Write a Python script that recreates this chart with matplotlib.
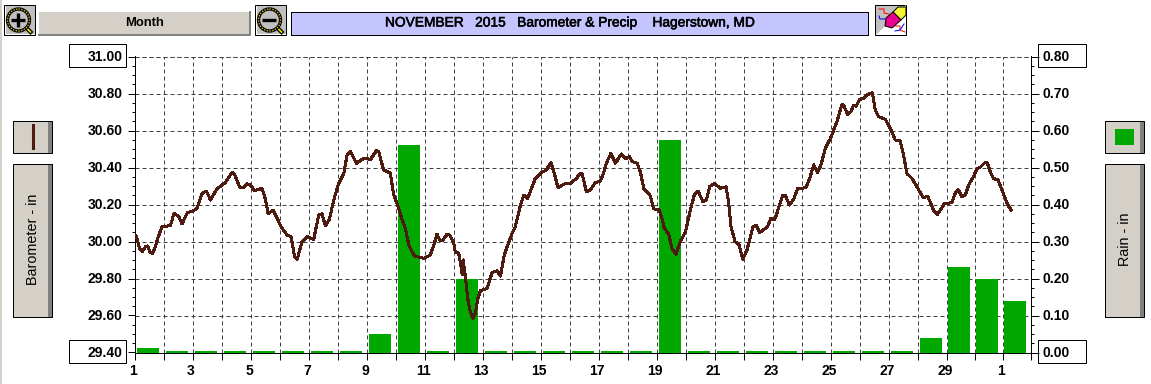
"""
Barometer & rain month chart for Hagerstown, MD (Nov 2015), with the program's
window furniture around it. Saves out.png at 1151x384.
"""
import matplotlib
matplotlib.use("Agg")
import matplotlib.patheffects as pe
import matplotlib.pyplot as plt
import numpy as np
from matplotlib.patches import Circle, Polygon, Rectangle
from matplotlib.transforms import ScaledTranslation

plt.rcParams["font.family"] = ["Liberation Sans", "DejaVu Sans"]

W, H = 1151, 384

TITLE = "NOVEMBER   2015   Barometer & Precip    Hagerstown, MD"

# day 31 on this axis is Dec 1
DAY_LABELS = ["1", "3", "5", "7", "9", "11", "13", "15", "17", "19", "21", "23", "25", "27", "29", "1"]
BARO_TICKS = [29.40, 29.60, 29.80, 30.00, 30.20, 30.40, 30.60, 30.80, 31.00]
RAIN_TICKS = [0.00, 0.10, 0.20, 0.30, 0.40, 0.50, 0.60, 0.70, 0.80]

RAIN_DAYS = list(range(1, 32))
RAIN = [0.012, 0, 0, 0, 0, 0, 0, 0, 0.05, 0.56, 0, 0.20, 0, 0, 0, 0, 0, 0, 0.575, 0, 0,
        0, 0, 0, 0, 0, 0, 0.04, 0.23, 0.20, 0.14]

BARO_DAY = [
    1.00, 1.07, 1.17, 1.26, 1.38, 1.46, 1.53, 1.63, 1.72, 1.80, 1.95, 2.24, 2.36, 2.53, 2.64, 2.82,
    3.02, 3.16, 3.33, 3.48, 3.62, 3.83, 4.14, 4.37, 4.46, 4.63, 4.77, 4.88, 5.00, 5.14, 5.40, 5.52,
    5.61, 5.78, 5.92, 6.06, 6.26, 6.40, 6.52, 6.61, 6.78, 6.95, 7.18, 7.35, 7.47, 7.58, 7.72, 7.87,
    8.04, 8.22, 8.33, 8.45, 8.65, 8.91, 9.14, 9.34, 9.42, 9.59, 9.82, 9.94, 10.11, 10.23, 10.34,
    10.46, 10.65, 10.97, 11.20, 11.32, 11.43, 11.52, 11.64, 11.78, 11.87, 12.01, 12.06, 12.18,
    12.24, 12.30, 12.33, 12.41, 12.49, 12.56, 12.67, 12.75, 12.84, 12.93, 13.16, 13.33, 13.50,
    13.62, 13.75, 13.87, 14.02, 14.13, 14.31, 14.42, 14.56, 14.71, 14.82, 15.00, 15.20, 15.36,
    15.46, 15.60, 15.86, 16.03, 16.24, 16.35, 16.44, 16.58, 16.72, 16.89, 17.06, 17.16, 17.27,
    17.43, 17.58, 17.79, 17.93, 18.07, 18.16, 18.33, 18.44, 18.56, 18.79, 18.90, 19.08, 19.19,
    19.27, 19.42, 19.53, 19.67, 19.82, 20.00, 20.14, 20.30, 20.43, 20.60, 20.72, 20.83, 21.00,
    21.20, 21.40, 21.49, 21.57, 21.71, 21.85, 21.97, 22.12, 22.32, 22.44, 22.55, 22.83, 22.94,
    23.07, 23.15, 23.35, 23.44, 23.58, 23.73, 23.87, 24.02, 24.16, 24.30, 24.42, 24.55, 24.67,
    24.82, 25.00, 25.11, 25.22, 25.39, 25.45, 25.59, 25.70, 25.80, 25.89, 26.00, 26.14, 26.26,
    26.44, 26.54, 26.66, 26.89, 27.06, 27.23, 27.40, 27.52, 27.63, 27.81, 27.98, 28.19, 28.36,
    28.55, 28.69, 28.92, 29.19, 29.31, 29.41, 29.55, 29.67, 29.79, 29.96, 30.09, 30.20, 30.38,
    30.46, 30.56, 30.68, 30.84, 30.98, 31.10, 31.19, 31.31,
]
BARO = [
    30.035, 30.026, 29.963, 29.945, 29.972, 29.976, 29.941, 29.936, 29.972, 30.017, 30.080, 30.086,
    30.152, 30.134, 30.095, 30.156, 30.165, 30.179, 30.260, 30.273, 30.224, 30.282, 30.320, 30.374,
    30.360, 30.293, 30.293, 30.311, 30.305, 30.275, 30.287, 30.224, 30.149, 30.170, 30.125, 30.077,
    30.035, 30.026, 29.918, 29.905, 30.000, 30.026, 30.012, 30.143, 30.149, 30.084, 30.120, 30.224,
    30.314, 30.369, 30.468, 30.486, 30.423, 30.450, 30.444, 30.491, 30.486, 30.387, 30.369, 30.251,
    30.179, 30.116, 30.071, 29.981, 29.922, 29.909, 29.927, 29.981, 30.040, 30.008, 30.008, 30.040,
    30.035, 29.990, 29.945, 29.936, 29.882, 29.819, 29.900, 29.810, 29.693, 29.630, 29.584, 29.611,
    29.693, 29.734, 29.747, 29.833, 29.842, 29.813, 29.927, 29.981, 30.044, 30.080, 30.197, 30.251,
    30.233, 30.296, 30.341, 30.369, 30.387, 30.426, 30.378, 30.291, 30.314, 30.314, 30.341, 30.365,
    30.365, 30.269, 30.278, 30.318, 30.327, 30.363, 30.423, 30.477, 30.423, 30.473, 30.446, 30.459,
    30.432, 30.423, 30.378, 30.287, 30.246, 30.176, 30.174, 30.125, 30.071, 30.040, 29.963, 29.932,
    30.000, 30.053, 30.152, 30.251, 30.273, 30.215, 30.224, 30.296, 30.314, 30.287, 30.296, 30.206,
    30.080, 29.999, 29.981, 29.904, 29.954, 30.077, 30.089, 30.048, 30.080, 30.125, 30.116, 30.152,
    30.251, 30.251, 30.197, 30.228, 30.287, 30.287, 30.293, 30.350, 30.414, 30.372, 30.414, 30.504,
    30.558, 30.603, 30.648, 30.738, 30.738, 30.687, 30.702, 30.738, 30.732, 30.768, 30.774, 30.792,
    30.805, 30.711, 30.675, 30.660, 30.612, 30.549, 30.545, 30.468, 30.368, 30.341, 30.296, 30.239,
    30.242, 30.170, 30.147, 30.203, 30.210, 30.260, 30.282, 30.242, 30.251, 30.305, 30.350, 30.395,
    30.401, 30.428, 30.423, 30.377, 30.341, 30.332, 30.278, 30.233, 30.197, 30.170,
]

PANEL = "#d4d0c8"
SHADOW = "#808080"
GREEN = "#00a800"
BROWN = "#4e1b10"
GRID = "#404040"
PX = 0.72  # one pixel in points at dpi 100


def day_to_px(d):
    # the last three day columns are a pixel narrower than the others
    return np.interp(d, [1, 29, 32], [0, 812.3, 896.3])


def px_to_day(p):
    return np.interp(p, [0, 812.3, 896.3], [1, 29, 32])


def rect(ui, x0, y0, x1, y1, fc, ec="black", lw=PX, z=1):
    ui.add_patch(Rectangle((x0, y0), x1 - x0, y1 - y0, fc=fc, ec=ec, lw=lw, zorder=z))


def button(ui, x0, y0, x1, y1):
    rect(ui, x0, y0, x1, y1, PANEL)
    rect(ui, x1 - 4.5, y0 + 1, x1 - 0.5, y1 - 0.5, SHADOW, ec="none", z=2)


def magnifier(ui, x0, minus=False):
    rect(ui, x0, 4.5, x0 + 31, 35, "#c0c0c0")
    ui.plot([x0 + 1, x0 + 1, x0 + 30], [5.5, 34, 34], color="white", lw=PX, zorder=2)
    cx, cy = x0 + 14, 20
    ui.plot([cx + 8, cx + 12], [cy + 8, cy + 12], color="black", lw=3.0, zorder=2)
    ui.plot([cx + 9, cx + 12], [cy + 9, cy + 12], color="#e8e800", lw=1.2, zorder=3)
    ui.add_patch(Circle((cx, cy), 11, fc="#c0c0c0", ec="black", lw=2.4, zorder=3))
    ui.add_patch(Circle((cx, cy), 11, fc="none", ec="#d0c020", lw=1.0, ls=(0, (1, 1)), zorder=4))
    ui.plot([cx - 7, cx + 7], [cy, cy], color="black", lw=2.4, zorder=4, solid_capstyle="butt")
    if not minus:
        ui.plot([cx, cx], [cy - 7, cy + 7], color="black", lw=2.4, zorder=4, solid_capstyle="butt")


def eraser_icon(ui):
    rect(ui, 875.5, 4.5, 906.5, 35, "#c0c0c0")
    ui.add_patch(Polygon([[906, 5], [906, 34.5], [876, 34.5]], fc="white", ec="none", zorder=2))
    ui.plot([879, 884, 884, 889], [9, 9, 13, 14], color="red", lw=PX, zorder=2)
    ui.plot([879, 880, 885], [16, 19, 19], color="blue", lw=PX, zorder=2)
    ui.plot([895, 900, 900, 905], [26, 26, 30, 32], color="red", lw=PX, zorder=2)
    ui.plot([895, 900, 904], [31, 30, 24], color="blue", lw=PX, zorder=2)
    ui.add_patch(Polygon([[898, 7], [906, 7], [906, 15], [901, 20], [893, 12]],
                         fc="#f4f430", ec="black", lw=PX, zorder=3))
    ui.add_patch(Polygon([[893, 12], [901, 20], [892, 28], [885, 26], [886, 18]],
                         fc="#e8008c", ec="black", lw=PX, zorder=4))


def draw_furniture(ui):
    rect(ui, 0, 0, 2.5, H, PANEL, ec="none")

    magnifier(ui, 4.5)
    rect(ui, 39.5, 12, 250.5, 35, PANEL, ec="none")
    ui.plot([39.5, 250.5, 250.5], [34.5, 34.5, 12], color=SHADOW, lw=1.4, zorder=2)
    ui.text(145, 23.5, "Month", ha="center", va="center", fontsize=9.4, fontweight="bold", zorder=5)
    magnifier(ui, 255.5, minus=True)

    rect(ui, 291.5, 11.5, 868.5, 35, "#c4c4ff")
    title = ui.text(385, 22.5, TITLE, ha="left", va="center", fontsize=9.9, zorder=5)
    title.set_path_effects([pe.withStroke(linewidth=0.4, foreground="black")])
    eraser_icon(ui)

    button(ui, 13.5, 120.5, 52.5, 153)
    ui.plot([33.3, 33.3], [125, 148], color=BROWN, lw=2.2, zorder=5)
    button(ui, 13.5, 163.5, 52.5, 317)
    ui.text(33, 239, "Barometer - in", rotation=90, ha="center", va="center", fontsize=10.4, zorder=5)

    button(ui, 1105.5, 120.5, 1144.5, 153)
    rect(ui, 1115, 129, 1134, 145, GREEN, ec="none", z=5)
    button(ui, 1105.5, 163.5, 1144.5, 317)
    ui.text(1125, 239, "Rain - in", rotation=90, ha="center", va="center", fontsize=10.4, zorder=5)

    # boxes round the end values of both scales
    rect(ui, 69.5, 43.5, 126, 66.5, "white")
    rect(ui, 69.5, 339.5, 126, 362.5, "white")
    rect(ui, 1038.5, 43.5, 1086.5, 66.5, "white")
    rect(ui, 1038.5, 339.5, 1086.5, 362.5, "white")


def main():
    fig = plt.figure(figsize=(W / 100, H / 100), dpi=100)

    ui = fig.add_axes([0, 0, 1, 1], zorder=0)
    ui.set_xlim(0, W)
    ui.set_ylim(H, 0)
    ui.axis("off")
    draw_furniture(ui)

    left, right, top, bottom = 134.5, 1030.5, 56.5, 352.5
    ax_rain = fig.add_axes([left / W, 1 - bottom / H, (right - left) / W, (bottom - top) / H], zorder=1)
    ax_baro = ax_rain.twinx()

    ax_rain.set_xscale("function", functions=(day_to_px, px_to_day))
    ax_rain.set_xlim(1, 32)
    ax_rain.set_ylim(0, 0.80)
    ax_baro.set_ylim(29.40, 31.00)

    # dry days still get a one pixel stub in the original program
    ax_rain.bar(np.array(RAIN_DAYS) + 0.07, np.maximum(RAIN, 0.003), width=0.78, align="edge",
                color=GREEN, linewidth=0, zorder=3)
    ax_baro.plot(BARO_DAY, BARO, color=BROWN, lw=1.45, antialiased=False, zorder=4)

    ax_rain.set_xticks(np.arange(1, 33), minor=True)
    ax_rain.set_xticks(np.arange(1, 32, 2), DAY_LABELS)
    ax_rain.tick_params(axis="x", which="both", length=5, width=PX, color="black")
    ax_rain.tick_params(axis="x", which="major", pad=3.6, labelsize=10, labelcolor="black")
    shift_x = ScaledTranslation(-1.5 / 100, 0, fig.dpi_scale_trans)
    for lab in ax_rain.get_xticklabels():
        lab.set_fontweight("bold")
        lab.set_transform(lab.get_transform() + shift_x)

    ax_rain.yaxis.tick_right()
    ax_rain.set_yticks(RAIN_TICKS, [f"{v:.2f}" for v in RAIN_TICKS])
    ax_rain.set_yticks(np.arange(0, 0.8001, 0.025), minor=True)
    ax_rain.tick_params(axis="y", which="major", length=5.8, width=PX, pad=2.6, labelsize=10)
    ax_rain.tick_params(axis="y", which="minor", length=2.2, width=PX)
    shift_y = ScaledTranslation(0, 1 / 100, fig.dpi_scale_trans)
    for lab in ax_rain.get_yticklabels():
        lab.set_fontweight("bold")
        lab.set_transform(lab.get_transform() + shift_y)

    ax_baro.yaxis.tick_left()
    ax_baro.set_yticks(BARO_TICKS, [f"{v:.2f}" for v in BARO_TICKS])
    ax_baro.set_yticks(np.arange(29.40, 31.001, 0.05), minor=True)
    ax_baro.tick_params(axis="y", which="major", length=5, width=PX, pad=3.8, labelsize=10)
    ax_baro.tick_params(axis="y", which="minor", length=2.2, width=PX)
    for lab in ax_baro.get_yticklabels():
        lab.set_fontweight("bold")
        lab.set_transform(lab.get_transform() + shift_y)

    # dashed grid sits under the bars
    ax_rain.set_axisbelow(True)
    ax_rain.grid(True, axis="y", which="major", color=GRID, lw=PX, ls=(0, (4, 3)))
    for d in range(2, 32):
        ax_rain.axvline(d, color=GRID, lw=PX, ls=(0, (4, 3)), zorder=1)
    ax_rain.axhline(0.80, color=GRID, lw=PX, ls=(0, (4, 3)), zorder=1, clip_on=False)

    for ax in (ax_rain, ax_baro):
        ax.spines["top"].set_visible(False)
        for side in ("left", "right", "bottom"):
            ax.spines[side].set_linewidth(PX)

    fig.savefig("out.png", dpi=100)
    plt.close(fig)


if __name__ == "__main__":
    main()
